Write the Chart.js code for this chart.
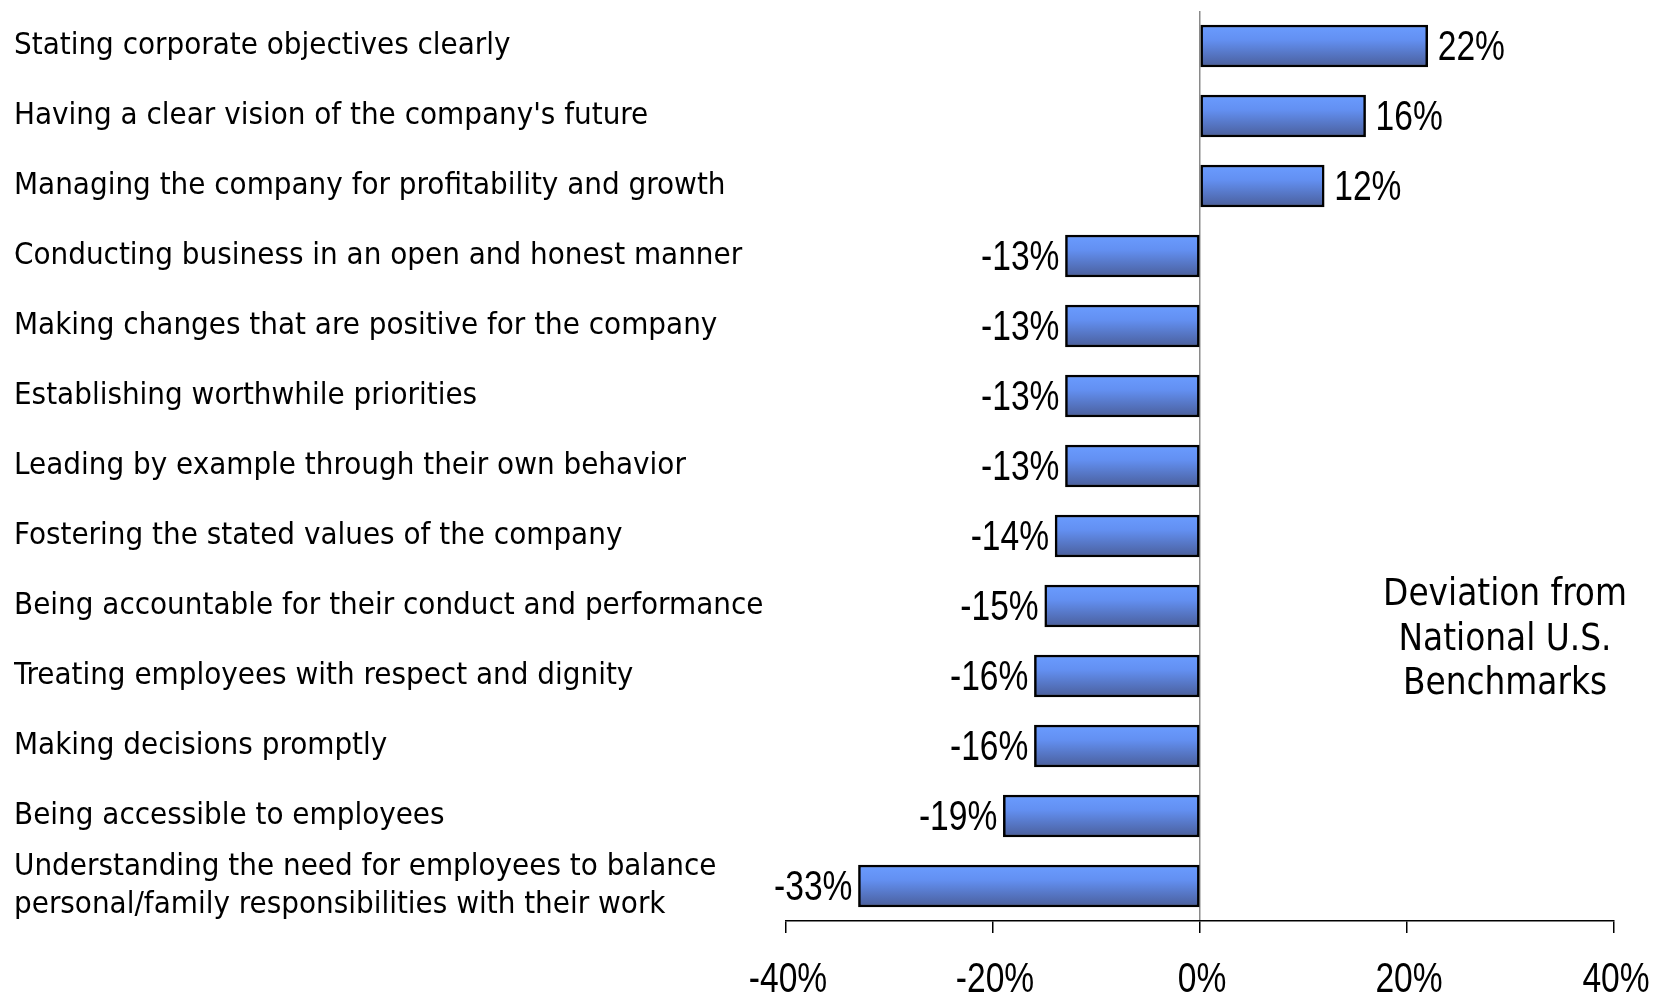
<!DOCTYPE html>
<html>
<head>
<meta charset="utf-8">
<script src="https://cdn.jsdelivr.net/npm/chart.js@4/dist/chart.umd.min.js"></script>
<style>
  html, body { margin: 0; padding: 0; background: #fff; }
  #wrap { width: 1653px; height: 994px; }
</style>
</head>
<body>
<div id="wrap"><canvas id="chart"></canvas></div>
<script>
const categories = [
    "Stating corporate objectives clearly",
    "Having a clear vision of the company's future",
    "Managing the company for profitability and growth",
    "Conducting business in an open and honest manner",
    "Making changes that are positive for the company",
    "Establishing worthwhile priorities",
    "Leading by example through their own behavior",
    "Fostering the stated values of the company",
    "Being accountable for their conduct and performance",
    "Treating employees with respect and dignity",
    "Making decisions promptly",
    "Being accessible to employees",
    ["Understanding the need for employees to balance", "personal/family responsibilities with their work"],
];
const deviations = [22, 16, 12, -13, -13, -13, -13, -14, -15, -16, -16, -19, -33];
const xTicks = [-40, -20, 0, 20, 40];
const noteLines = ["Deviation from", "National U.S.", "Benchmarks"];

const labelFont = "'DejaVu Sans Condensed', 'DejaVu Sans', sans-serif";
const numFont = "'Liberation Sans', Arial, sans-serif";
const NUM_SIZE = 42;
const SQUEEZE = 0.8;
const BAR = 42;

function barGradient(ctx) {
    const chart = ctx.chart;
    const ys = chart.scales.y;
    if (!ys || ctx.dataIndex === undefined) return "#6699ff";
    const c = ys.getPixelForValue(ctx.dataIndex);
    if (!isFinite(c)) return "#6699ff";
    const g = chart.ctx.createLinearGradient(0, c - BAR / 2, 0, c + BAR / 2);
    g.addColorStop(0, "#6a9cff");
    g.addColorStop(0.35, "#6390f2");
    g.addColorStop(1, "#4a5e9a");
    return g;
}

// narrow numbers (squeezed Arial look)
function narrowText(c, text, x, y, align) {
    c.save();
    c.translate(x, y);
    c.scale(SQUEEZE, 1);
    c.textAlign = align;
    c.fillText(text, 0, 0);
    c.restore();
}

// value labels at the bar ends + x tick labels
const numberLabels = {
    id: "numberLabels",
    afterDatasetsDraw(chart) {
        const c = chart.ctx;
        const meta = chart.getDatasetMeta(0);
        c.save();
        c.font = NUM_SIZE + "px " + numFont;
        c.fillStyle = "#000";
        c.textBaseline = "middle";
        meta.data.forEach((el, i) => {
            const v = deviations[i];
            if (v >= 0) narrowText(c, v + "%", el.x + 10, el.y + 2, "left");
            else narrowText(c, v + "%", el.x - 6, el.y + 2, "right");
        });
        const xs = chart.scales.x;
        xs.ticks.forEach((t) => {
            narrowText(c, t.value + "%", xs.getPixelForValue(t.value) + 2, xs.top + 59, "center");
        });
        c.restore();
    },
};

// text block on the right
const note = {
    id: "note",
    afterDraw(chart) {
        const c = chart.ctx;
        c.save();
        c.font = "36.5px " + labelFont;
        c.fillStyle = "#000";
        c.textAlign = "center";
        c.textBaseline = "middle";
        noteLines.forEach((t, i) => c.fillText(t, 1505, 596 + i * 44.5));
        c.restore();
    },
};

const chart = new Chart(document.getElementById("chart"), {
    type: "bar",
    data: {
        labels: categories,
        datasets: [{
            data: deviations,
            backgroundColor: barGradient,
            borderColor: "#000",
            borderWidth: 2.5,
            borderSkipped: false,
            barThickness: BAR,
        }],
    },
    options: {
        indexAxis: "y",
        responsive: true,
        maintainAspectRatio: false,
        animation: false,
        layout: { padding: { left: 14, right: 39, top: 11, bottom: 0 } },
        plugins: { legend: { display: false }, tooltip: { enabled: false } },
        scales: {
            x: {
                min: -40,
                max: 40,
                afterBuildTicks: (s) => { s.ticks = xTicks.map((v) => ({ value: v })); },
                afterFit: (s) => {
                    s.height = 73;
                    s.paddingLeft = 0;
                    s.paddingRight = 0;
                },
                grid: {
                    color: (ctx) => (ctx.tick && ctx.tick.value === 0 ? "#8a8a8a" : "transparent"),
                    tickColor: "#000",
                    tickLength: 12,
                    lineWidth: 1.5,
                },
                border: { display: true, color: "#000", width: 1.5 },
                ticks: { display: false },
            },
            y: {
                afterFit: (s) => {
                    s.width = 772;
                    s.paddingTop = 0;
                    s.paddingBottom = 0;
                },
                grid: { display: false },
                border: { display: false },
                ticks: {
                    autoSkip: false,
                    crossAlign: "far",
                    font: { family: labelFont, size: 31, lineHeight: 1.22 },
                    color: "#000",
                    padding: 0,
                },
            },
        },
    },
    plugins: [numberLabels, note],
});
// second pass so the gradients see the laid-out scale
chart.update();
</script>
</body>
</html>
